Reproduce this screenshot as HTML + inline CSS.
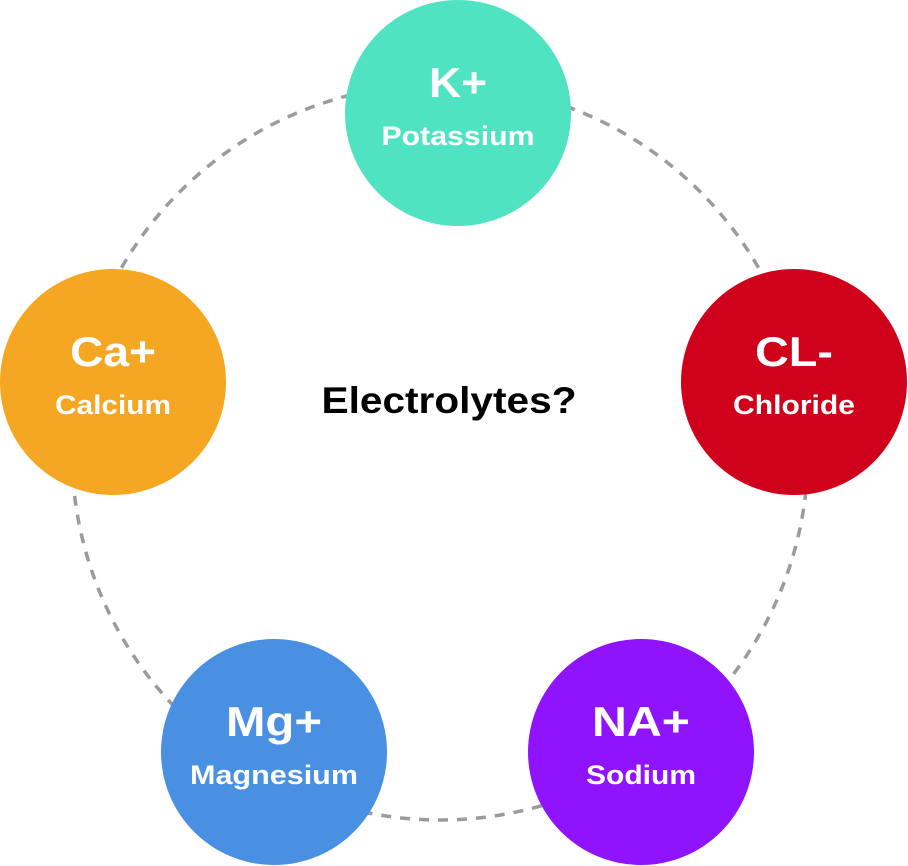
<!DOCTYPE html>
<html><head><meta charset="utf-8"><style>
html,body{margin:0;padding:0;background:#fff;}
svg{display:block;}
text{font-family:"Liberation Sans",sans-serif;font-weight:bold;text-anchor:middle;}
</style></head><body>
<svg width="908" height="866" viewBox="0 0 908 866">
<circle cx="440" cy="452" r="368" fill="none" stroke="#9b9b9b" stroke-width="3.5" stroke-dasharray="10 9"/>
<circle cx="458" cy="113" r="113" fill="#50e3c2"/>
<circle cx="794" cy="382" r="113" fill="#d0021b"/>
<circle cx="641" cy="752" r="113" fill="#9013fe"/>
<circle cx="274" cy="752" r="113" fill="#4a90e2"/>
<circle cx="113" cy="382" r="113" fill="#f5a623"/>
<g fill="#fff">
<text x="458" y="97" font-size="42" textLength="58" lengthAdjust="spacingAndGlyphs">K+</text>
<text x="458" y="145" font-size="27" textLength="153" lengthAdjust="spacingAndGlyphs">Potassium</text>
<text x="794" y="366" font-size="42" textLength="78" lengthAdjust="spacingAndGlyphs">CL-</text>
<text x="794" y="414" font-size="27" textLength="122" lengthAdjust="spacingAndGlyphs">Chloride</text>
<text x="641" y="736" font-size="42" textLength="98" lengthAdjust="spacingAndGlyphs">NA+</text>
<text x="641" y="784" font-size="27" textLength="110" lengthAdjust="spacingAndGlyphs">Sodium</text>
<text x="274" y="736" font-size="42" textLength="96" lengthAdjust="spacingAndGlyphs">Mg+</text>
<text x="274" y="784" font-size="27" textLength="168" lengthAdjust="spacingAndGlyphs">Magnesium</text>
<text x="113" y="366" font-size="42" textLength="86" lengthAdjust="spacingAndGlyphs">Ca+</text>
<text x="113" y="414" font-size="27" textLength="116" lengthAdjust="spacingAndGlyphs">Calcium</text>
</g>
<text x="449" y="413" font-size="37" fill="#000" textLength="255" lengthAdjust="spacingAndGlyphs">Electrolytes?</text>
</svg>
</body></html>
